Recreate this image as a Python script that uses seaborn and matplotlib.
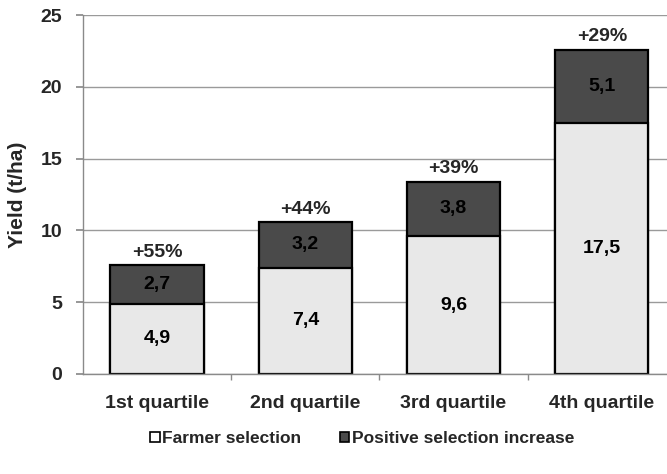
import matplotlib
matplotlib.use("Agg")
import matplotlib.pyplot as plt
from matplotlib.patches import Patch
import seaborn as sns
import pandas as pd

# Yield by farmer quartile (t/ha)
quartiles = ["1st quartile", "2nd quartile", "3rd quartile", "4th quartile"]
farmer_selection = [4.9, 7.4, 9.6, 17.5]
positive_increase = [2.7, 3.2, 3.8, 5.1]
percent_gain = [55, 44, 39, 29]

totals = [f + p for f, p in zip(farmer_selection, positive_increase)]
df = pd.DataFrame({"quartile": quartiles, "farmer": farmer_selection,
                   "increase": positive_increase, "total": totals})

sns.set_theme(style="white")
plt.rcParams["font.family"] = ["Liberation Sans", "DejaVu Sans"]
plt.rcParams["font.weight"] = "bold"

light = "#e8e8e8"
dark = "#4a4a4a"

fig = plt.figure(figsize=(6.67, 4.74), dpi=100)
ax = fig.add_axes([83 / 667, 0.211, 1 - 83 / 667, 0.968 - 0.211])

# Stacked bars: full total in dark, farmer selection overlaid in light
sns.barplot(data=df, x="quartile", y="total", color=dark, width=0.63,
            edgecolor="black", linewidth=1.6, saturation=1, ax=ax)
sns.barplot(data=df, x="quartile", y="farmer", color=light, width=0.63,
            edgecolor="black", linewidth=1.6, saturation=1, ax=ax)

for i, (f, p, t, pct) in enumerate(zip(farmer_selection, positive_increase,
                                        totals, percent_gain)):
    ax.text(i, f / 2, f"{f:.1f}".replace(".", ","), ha="center", va="center",
            fontsize=14, fontweight="bold", color="black")
    ax.text(i, f + p / 2, f"{p:.1f}".replace(".", ","), ha="center",
            va="center", fontsize=14, fontweight="bold", color="black")
    ax.annotate(f"+{pct}%", (i, t), xytext=(0, 3), textcoords="offset points",
                ha="center", va="bottom", fontsize=14, fontweight="bold")

ax.set_ylim(0, 25)
ax.set_yticks([0, 5, 10, 15, 20, 25])
ax.set_xlim(-0.5, 3.44)
ax.yaxis.grid(True, color="#9a9a9a", linewidth=1.0)
ax.set_axisbelow(True)
for side in ["top", "right"]:
    ax.spines[side].set_visible(False)
for side in ["left", "bottom"]:
    ax.spines[side].set_color("#8a8a8a")
    ax.spines[side].set_linewidth(1.0)

ax.tick_params(axis="y", which="major", left=True, length=5, color="#8a8a8a",
               labelsize=14, pad=10)
ax.tick_params(axis="x", which="major", bottom=False, labelsize=14, pad=9)
ax.set_xticks([0.5, 1.5, 2.5], minor=True)
ax.tick_params(axis="x", which="minor", bottom=True, length=4,
               color="#8a8a8a")
for lbl in ax.get_xticklabels() + ax.get_yticklabels():
    lbl.set_fontweight("bold")

ax.set_xlabel("")
ax.set_ylabel("Yield (t/ha)", fontsize=15, fontweight="bold", labelpad=10)

handles = [Patch(facecolor="white", edgecolor="black", linewidth=1.2),
           Patch(facecolor=dark, edgecolor="black", linewidth=1.2)]
fig.legend(handles, ["Farmer selection", "Positive selection increase"],
           loc="center", bbox_to_anchor=(0.543, 0.075), ncol=2, frameon=False,
           handlelength=0.55, handleheight=0.55, handletextpad=0.15,
           columnspacing=2.2, prop={"weight": "bold", "size": 12.5})

fig.savefig("out.png", dpi=100)
